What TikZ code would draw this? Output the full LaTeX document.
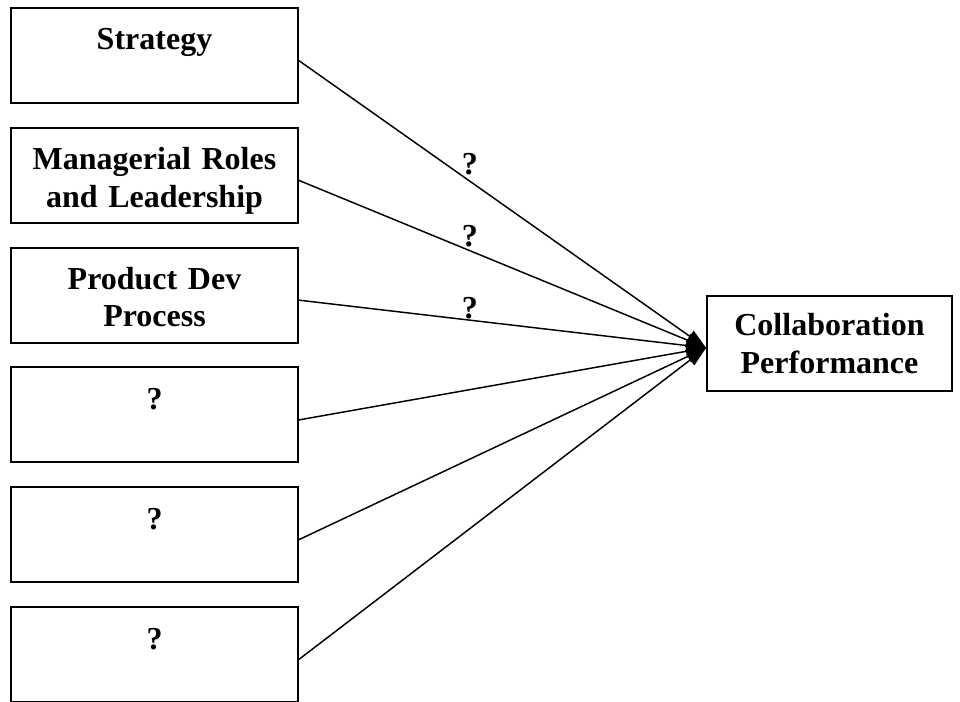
\documentclass[tikz,border=0pt]{standalone}
\usepackage{fontspec}
\setmainfont{Liberation Serif}
\usetikzlibrary{arrows.meta, positioning}

\begin{document}
\begin{tikzpicture}[x=0.75pt, y=-0.75pt,
    % Define styles
    factor/.style={rectangle, draw, line width=1.4pt, inner sep=0pt, text width=215pt, align=center, text height=31.5pt, text depth=39.75pt, font=\bfseries\fontsize{24}{28}\selectfont},
    outcome/.style={rectangle, draw, line width=1.4pt, minimum width=183.75pt, minimum height=71.25pt, align=center, font=\bfseries\fontsize{24}{28}\selectfont},
    arrow/.style={-{Triangle[length=15pt, width=10pt]}, line width=1.1pt},
    qmark/.style={font=\bfseries\fontsize{24}{28}\selectfont, inner sep=2pt}
  ]
  \useasboundingbox (0,0) rectangle (960,702);

  % Factors
  \node[factor] (strategy) at (154.5,55.5) {Strategy};
  \node[factor, below=17.2pt of strategy] (roles) {Managerial Roles\\and Leadership};
  \node[factor, below=17.2pt of roles] (process) {Product Dev\\Process};
  \node[factor, below=17.2pt of process] (unknownA) {?};
  \node[factor, below=17.2pt of unknownA] (unknownB) {?};
  \node[factor, below=17.2pt of unknownB] (unknownC) {?};

  % Outcome
  \node[outcome] (perf) at (829.5,343.5) {Collaboration\\Performance};

  % Links
  \draw[arrow] (strategy.-2.6) -- node[qmark, pos=0.42, above=2pt] (qa) {?} (perf.182);
  \draw[arrow] (roles.-2.6) -- node[qmark, pos=0.42, above=0pt] (qb) {?} (perf.182);
  \draw[arrow] (process.-2.6) -- node[qmark, pos=0.42, above=-2pt] (qc) {?} (perf.182);
  \draw[arrow] (unknownA.-2.6) -- (perf.182);
  \draw[arrow] (unknownB.-2.6) -- (perf.182);
  \draw[arrow] (unknownC.-2.6) -- (perf.182);

\end{tikzpicture}
\end{document}
